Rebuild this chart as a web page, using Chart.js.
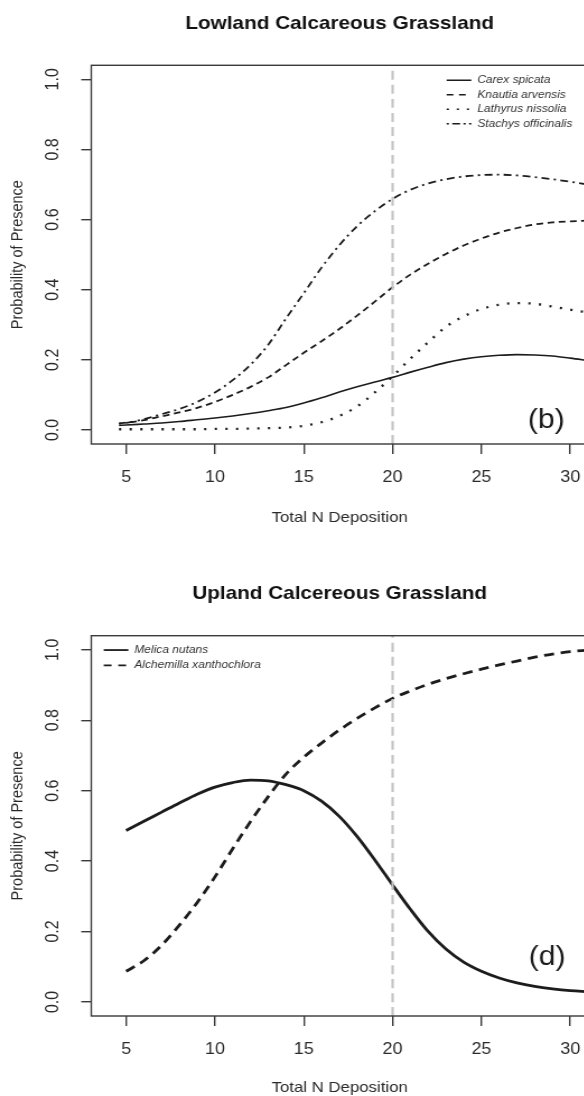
<!DOCTYPE html>
<html>
<head>
<meta charset="utf-8">
<script src="https://cdn.jsdelivr.net/npm/chart.js@4/dist/chart.umd.min.js"></script>
<style>
  html, body { margin: 0; padding: 0; width: 584px; height: 1096px; overflow: hidden; background: #fff; }
  .panel { position: absolute; left: 0; transform: scaleX(1.12); transform-origin: 0 0; }
  #p1 { top: 0; }
  #p2 { top: 570px; }
</style>
</head>
<body>
<div class="panel" id="p1"><canvas id="c1" width="540" height="540"></canvas></div>
<div class="panel" id="p2"><canvas id="c2" width="540" height="540"></canvas></div>
<script>
// ---------------- data ----------------
const nDepositionLowland = [4.6, 5, 6, 7, 8, 9, 10, 11, 12, 13, 14, 15, 16, 17, 18, 19, 20, 21, 22, 23, 24, 25, 26, 27, 28, 29, 30, 31];
const carexSpicata       = [0.013, 0.014, 0.017, 0.020, 0.024, 0.029, 0.034, 0.040, 0.047, 0.055, 0.064, 0.077, 0.092, 0.108, 0.123, 0.137, 0.150, 0.165, 0.179, 0.192, 0.202, 0.209, 0.213, 0.215, 0.214, 0.211, 0.205, 0.198];
const knautiaArvensis    = [0.019, 0.021, 0.028, 0.039, 0.050, 0.063, 0.080, 0.100, 0.123, 0.150, 0.185, 0.220, 0.253, 0.288, 0.326, 0.366, 0.407, 0.443, 0.474, 0.502, 0.526, 0.546, 0.563, 0.576, 0.586, 0.592, 0.595, 0.597];
const lathyrusNissolia   = [0.002, 0.002, 0.002, 0.002, 0.002, 0.002, 0.003, 0.003, 0.004, 0.005, 0.007, 0.012, 0.022, 0.040, 0.067, 0.107, 0.153, 0.203, 0.250, 0.294, 0.324, 0.345, 0.357, 0.362, 0.360, 0.352, 0.343, 0.335];
const stachysOfficinalis = [0.018, 0.020, 0.031, 0.045, 0.060, 0.080, 0.107, 0.142, 0.186, 0.243, 0.318, 0.390, 0.463, 0.527, 0.581, 0.624, 0.659, 0.685, 0.703, 0.715, 0.723, 0.727, 0.728, 0.726, 0.721, 0.715, 0.708, 0.700];

const nDepositionUpland      = [5, 6, 7, 8, 9, 10, 11, 12, 13, 14, 15, 16, 17, 18, 19, 20, 21, 22, 23, 24, 25, 26, 27, 28, 29, 30, 31];
const melicaNutans           = [0.487, 0.513, 0.539, 0.565, 0.590, 0.610, 0.623, 0.630, 0.628, 0.617, 0.600, 0.570, 0.527, 0.470, 0.403, 0.332, 0.263, 0.200, 0.150, 0.113, 0.087, 0.068, 0.054, 0.044, 0.037, 0.032, 0.029];
const alchemillaXanthochlora = [0.087, 0.117, 0.161, 0.218, 0.282, 0.355, 0.435, 0.512, 0.583, 0.647, 0.695, 0.735, 0.772, 0.805, 0.835, 0.862, 0.883, 0.902, 0.918, 0.932, 0.945, 0.957, 0.968, 0.979, 0.988, 0.995, 0.999];

const thresholdDeposition = 20;
const xLimits = [3.04, 31.0];
const yLimits = [-0.04, 1.04];
const xTickStep = 5;
const yTickStep = 0.2;
const panelLabels = [{ text: '(b)', x: 28.65, y: 0.028 }, { text: '(d)', x: 28.7, y: 0.127 }];

// ---------------- styling ----------------
const FONT = '"Liberation Sans", Arial, Helvetica, sans-serif';
const AXIS = '#3a3a3a';
const TEXT = '#2a2a2a';
const INK = '#1c1c1c';

function pts(xs, ys) { return xs.map((x, i) => ({ x: x, y: ys[i] })); }

function guideDataset() {
  return {
    label: 'guide', isGuide: true,
    data: [{ x: thresholdDeposition, y: yLimits[0] }, { x: thresholdDeposition, y: yLimits[1] }],
    borderColor: '#c4c4c4', borderWidth: 2.2, borderDash: [9, 5], pointRadius: 0, fill: false
  };
}

function boxPlugin(labelInfo, legendPos) {
  return {
    id: 'rbox',
    beforeDraw(chart) {
      const lg = chart.legend;
      if (lg) {
        lg.left = legendPos.left; lg.top = legendPos.top;
        lg.right = legendPos.left + 200; lg.bottom = legendPos.top + 300;
      }
    },
    afterDraw(chart) {
      const { ctx, chartArea: a } = chart;
      ctx.save();
      ctx.strokeStyle = AXIS; ctx.lineWidth = 1.4;
      ctx.strokeRect(a.left, a.top, a.right - a.left, a.bottom - a.top);
      const xs = chart.scales.x, ys = chart.scales.y;
      ctx.fillStyle = INK;
      ctx.font = '27px ' + FONT;
      ctx.textAlign = 'center'; ctx.textBaseline = 'middle';
      ctx.fillText(labelInfo.text, xs.getPixelForValue(labelInfo.x), ys.getPixelForValue(labelInfo.y));
      ctx.restore();
    }
  };
}

function makeChart(canvasId, title, datasets, opt) {
  return new Chart(document.getElementById(canvasId), {
    type: 'line',
    data: { datasets: datasets },
    plugins: [boxPlugin(opt.label, opt.legendPos)],
    options: {
      responsive: false, animation: false, devicePixelRatio: 1,
      layout: { padding: { left: 0, top: 0, right: 15, bottom: 0 } },
      elements: { point: { radius: 0 }, line: { cubicInterpolationMode: 'monotone' } },
      plugins: {
        tooltip: { enabled: false },
        title: {
          display: true, text: title, fullSize: false, color: '#111',
          font: { family: FONT, size: 18.5, weight: 'bold' },
          padding: { top: opt.titlePadTop, bottom: opt.titlePadBottom }
        },
        legend: {
          display: true, position: 'chartArea', align: 'start',
          labels: {
            usePointStyle: true, pointStyle: 'line', pointStyleWidth: 22,
            padding: opt.legendPad, color: '#333',
            font: { family: FONT, size: 10.7, style: 'italic' },
            generateLabels: chart => chart.data.datasets
              .map((ds, i) => ({
                text: ds.label, datasetIndex: i, hidden: false,
                strokeStyle: ds.borderColor, fillStyle: 'rgba(0,0,0,0)',
                lineWidth: opt.legendLineWidth, lineDash: ds.legendDash || [],
                lineCap: 'butt', pointStyle: 'line', fontColor: '#333'
              }))
              .filter(item => !chart.data.datasets[item.datasetIndex].isGuide)
          }
        }
      },
      scales: {
        x: {
          type: 'linear', min: xLimits[0], max: xLimits[1],
          afterFit: s => { s.height = opt.xAxisHeight; },
          border: { display: false },
          grid: { drawOnChartArea: false, drawTicks: true, tickLength: 10, color: AXIS, lineWidth: 1.4 },
          ticks: { stepSize: xTickStep, includeBounds: false, padding: 13.5, color: TEXT,
                   font: { family: FONT, size: 16 }, maxRotation: 0, autoSkip: false,
                   callback: v => String(v) },
          title: { display: true, text: 'Total N Deposition', color: TEXT,
                   font: { family: FONT, size: 15 }, padding: { top: 0, bottom: opt.xTitlePad } }
        },
        y: {
          type: 'linear', min: yLimits[0], max: yLimits[1],
          afterFit: s => { s.width = 81.5; },
          border: { display: false },
          grid: { drawOnChartArea: false, drawTicks: true, tickLength: 9, color: AXIS, lineWidth: 1.4 },
          ticks: { stepSize: yTickStep, includeBounds: false, minRotation: 90, maxRotation: 90,
                   crossAlign: 'center', padding: 13.5, color: TEXT,
                   font: { family: FONT, size: 16 }, callback: v => Number(v).toFixed(1) },
          title: { display: true, text: 'Probability of Presence', color: TEXT,
                   font: { family: FONT, size: 14.5 }, padding: { top: 7.5, bottom: 0 } }
        }
      }
    }
  });
}

makeChart('c1', 'Lowland Calcareous Grassland', [
  guideDataset(),
  { label: 'Carex spicata', data: pts(nDepositionLowland, carexSpicata), borderColor: INK, backgroundColor: INK, borderWidth: 1.6, fill: false, legendDash: [] },
  { label: 'Knautia arvensis', data: pts(nDepositionLowland, knautiaArvensis), borderColor: INK, backgroundColor: INK, borderWidth: 1.8, borderDash: [6, 4], fill: false, legendDash: [6, 5] },
  { label: 'Lathyrus nissolia', data: pts(nDepositionLowland, lathyrusNissolia), borderColor: INK, backgroundColor: INK, borderWidth: 2.3, borderDash: [2, 7.5], fill: false, legendDash: [2, 7] },
  { label: 'Stachys officinalis', data: pts(nDepositionLowland, stachysOfficinalis), borderColor: INK, backgroundColor: INK, borderWidth: 1.8, borderDash: [2, 4, 7, 4], fill: false, legendDash: [2, 3, 7, 3] }
], {
  label: panelLabels[0], legendPos: { left: 395, top: 71.2 }, legendPad: 3.8, legendLineWidth: 1.5,
  titlePadTop: 13.2, titlePadBottom: 29.9, xAxisHeight: 96, xTitlePad: 12.7
});

makeChart('c2', 'Upland Calcereous Grassland', [
  guideDataset(),
  { label: 'Melica nutans', data: pts(nDepositionUpland, melicaNutans), borderColor: INK, backgroundColor: INK, borderWidth: 2.8, fill: false, legendDash: [] },
  { label: 'Alchemilla xanthochlora', data: pts(nDepositionUpland, alchemillaXanthochlora), borderColor: INK, backgroundColor: INK, borderWidth: 2.8, borderDash: [9, 6], fill: false, legendDash: [7, 6] }
], {
  label: panelLabels[1], legendPos: { left: 88, top: 70.1 }, legendPad: 4.6, legendLineWidth: 1.8,
  titlePadTop: 12.9, titlePadBottom: 30.6, xAxisHeight: 94, xTitlePad: 13.3
});
</script>
</body>
</html>
